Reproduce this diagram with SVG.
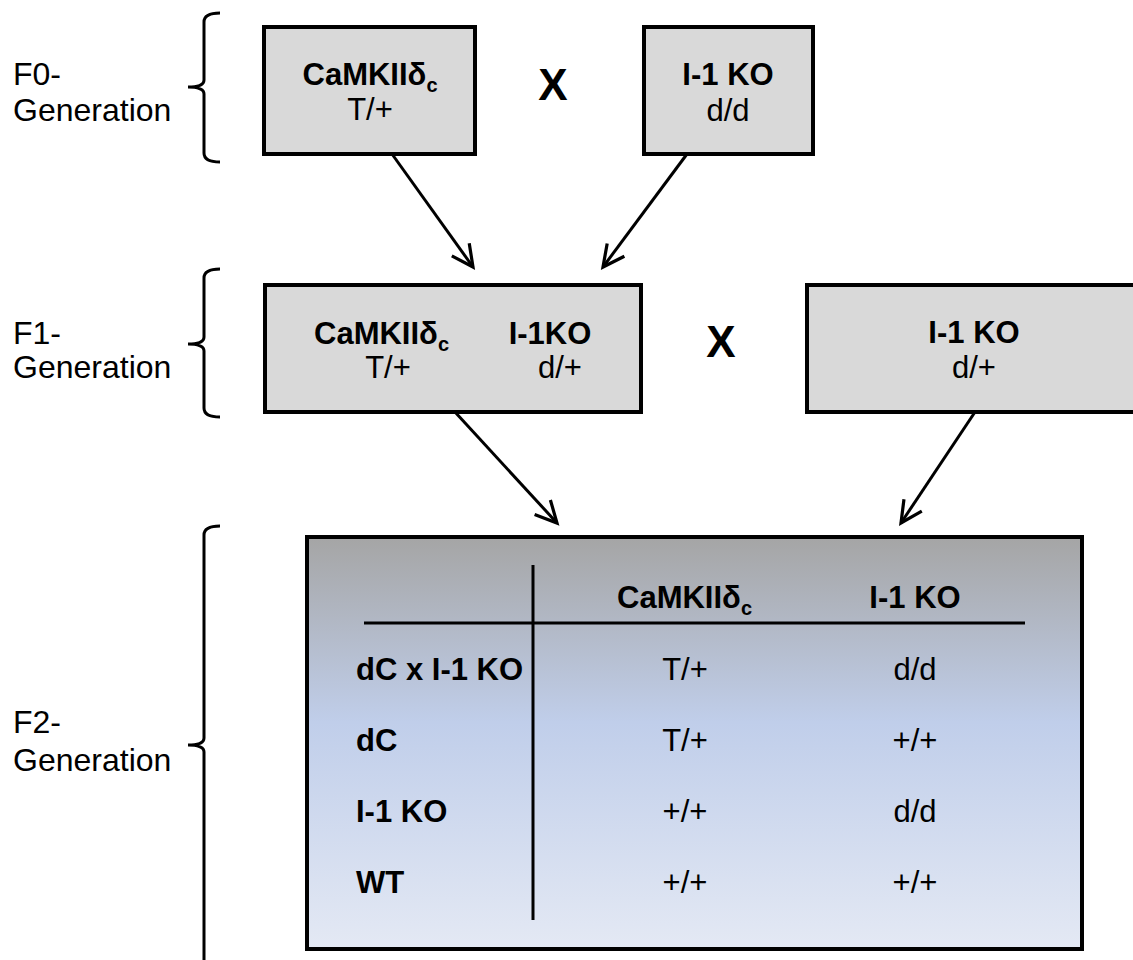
<svg xmlns="http://www.w3.org/2000/svg" width="1133" height="960" viewBox="0 0 1133 960">
<style>
text{font-family:"Liberation Sans",Arial,sans-serif;font-size:31px;fill:#000}
.lb{font-size:32px}
.b{font-weight:bold}
.m{text-anchor:middle}
.box{fill:#d9d9d9;stroke:#000;stroke-width:4}
.br{fill:none;stroke:#000;stroke-width:3}
.ar{fill:none;stroke:#000;stroke-width:3;marker-end:url(#ah)}
.ln{stroke:#000;stroke-width:3}
.x{font-size:44px;font-weight:bold;text-anchor:middle}
.sub{font-size:20px}
</style>
<defs>
<marker id="ah" markerUnits="userSpaceOnUse" markerWidth="30" markerHeight="30" viewBox="-24 -12 28 24" refX="0" refY="0" orient="auto">
<path d="M-20,-10 L0,0 L-20,10" fill="none" stroke="#000" stroke-width="3"/>
</marker>
<linearGradient id="tg" x1="0" y1="0" x2="0" y2="1">
<stop offset="0" stop-color="#a5a5a5"/>
<stop offset="0.45" stop-color="#c0ceea"/>
<stop offset="1" stop-color="#e4e9f4"/>
</linearGradient>
</defs>

<g id="labels">
<text class="lb" x="13" y="85">F0-</text>
<text class="lb" x="13" y="121">Generation</text>
<text class="lb" x="13" y="344">F1-</text>
<text class="lb" x="13" y="378">Generation</text>
<text class="lb" x="13" y="733">F2-</text>
<text class="lb" x="13" y="771">Generation</text>
</g>

<g id="brackets">
<path class="br" d="M220,13 Q204,13 204,22 L204,80 Q204,87 188,87 Q204,87 204,94 L204,153 Q204,162 220,162"/>
<path class="br" d="M220,269 Q204,269 204,278 L204,337 Q204,344 188,344 Q204,344 204,351 L204,408 Q204,417 220,417"/>
<path class="br" d="M220,526 Q204,526 204,535 L204,738 Q204,745 188,745 Q204,745 204,752 L204,975"/>
</g>

<g id="f0-camkii">
<rect class="box" x="264" y="27" width="211" height="127"/>
<text class="b m" x="370" y="85">CaMKIIδ<tspan class="sub" dy="7">c</tspan></text>
<text class="m" x="370" y="120">T/+</text>
</g>

<g id="f0-cross"><text class="x" x="553" y="100">X</text></g>

<g id="f0-i1ko">
<rect class="box" x="644" y="27" width="169" height="127"/>
<text class="b m" x="728" y="85">I-1 KO</text>
<text class="m" x="728" y="121">d/d</text>
</g>

<g id="f1-double">
<rect class="box" x="265" y="285" width="376" height="127"/>
<text class="b" x="314" y="344">CaMKIIδ<tspan class="sub" dy="7">c</tspan></text>
<text class="b m" x="550" y="344">I-1KO</text>
<text class="m" x="388" y="378">T/+</text>
<text class="m" x="560" y="378">d/+</text>
</g>

<g id="f1-cross"><text class="x" x="721" y="357">X</text></g>

<g id="f1-i1ko">
<rect class="box" x="807" y="285" width="340" height="127"/>
<text class="b m" x="974" y="343">I-1 KO</text>
<text class="m" x="974" y="378">d/+</text>
</g>

<g id="f2-table">
<rect x="307" y="537" width="775" height="412" fill="url(#tg)" stroke="#000" stroke-width="4"/>
<line class="ln" x1="533" y1="565" x2="533" y2="920"/>
<line class="ln" x1="364" y1="623" x2="1025" y2="623"/>
<text class="b" x="617" y="608">CaMKIIδ<tspan class="sub" dy="7">c</tspan></text>
<text class="b m" x="915" y="608">I-1 KO</text>
<text class="b" x="356" y="680">dC x I-1 KO</text>
<text class="m" x="685" y="680">T/+</text>
<text class="m" x="915" y="680">d/d</text>
<text class="b" x="356" y="751">dC</text>
<text class="m" x="685" y="751">T/+</text>
<text class="m" x="915" y="751">+/+</text>
<text class="b" x="356" y="822">I-1 KO</text>
<text class="m" x="685" y="822">+/+</text>
<text class="m" x="915" y="822">d/d</text>
<text class="b" x="356" y="893">WT</text>
<text class="m" x="685" y="893">+/+</text>
<text class="m" x="915" y="893">+/+</text>
</g>

<g id="connectors">
<line class="ar" x1="392" y1="154" x2="473" y2="267"/>
<line class="ar" x1="687" y1="154" x2="603" y2="267"/>
<line class="ar" x1="455" y1="412" x2="557" y2="523"/>
<line class="ar" x1="975" y1="412" x2="901" y2="523"/>
</g>
</svg>
